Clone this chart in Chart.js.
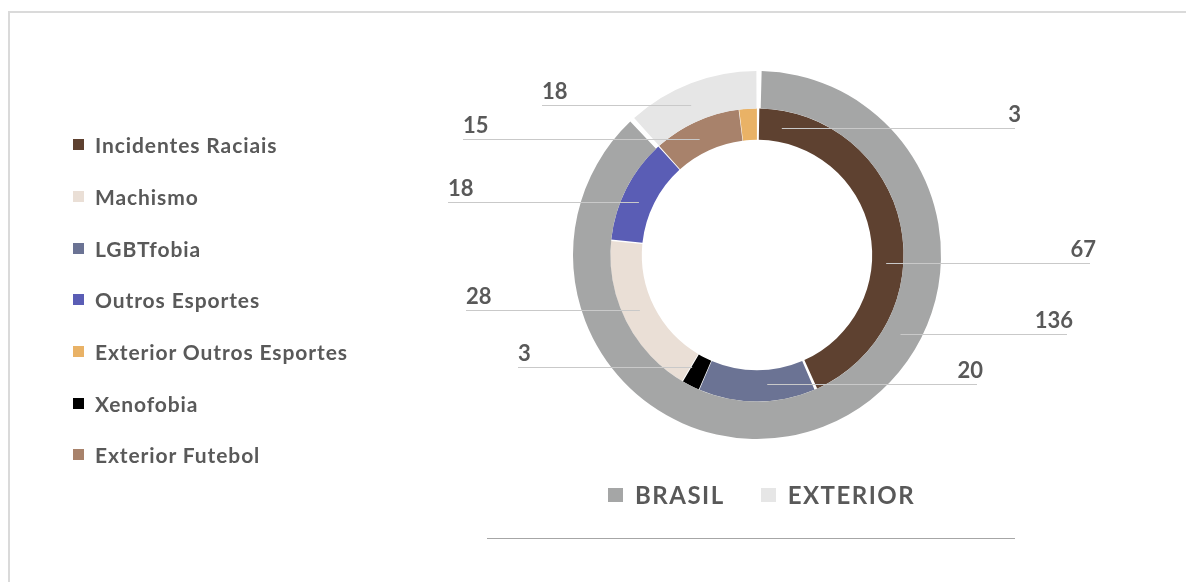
<!DOCTYPE html>
<html>
<head>
<meta charset="utf-8">
<script src="https://cdn.jsdelivr.net/npm/chart.js@4/dist/chart.umd.min.js"></script>
<style>
  html, body { margin: 0; padding: 0; background: #fff; }
  body { width: 1186px; height: 582px; position: relative; overflow: hidden; font-family: Lato, "Open Sans", sans-serif; }
  #frame { position: absolute; left: 8px; top: 11px; width: 1300px; height: 700px; border-top: 2px solid #dadada; border-left: 2px solid #dadada; }
  #chartBox { position: absolute; left: 0; top: 0; width: 1186px; height: 582px; }
  #sideLegend { position: absolute; left: 73px; top: 119px; }
  #sideLegend .item { height: 51.7px; display: flex; align-items: center; font-weight: bold; font-size: 21px; letter-spacing: 0.9px; color: #595959; }
  #sideLegend .box { width: 11px; height: 11px; margin-right: 11px; }
  #bottomLegend { position: absolute; left: 608px; top: 480px; display: flex; }
  #bottomLegend .item { display: flex; align-items: center; font-weight: bold; font-size: 24px; letter-spacing: 1.5px; color: #595959; margin-right: 36px; }
  #bottomLegend .box { width: 15px; height: 14px; margin-right: 12px; }
  #rule { position: absolute; left: 487px; top: 538px; width: 528px; height: 0; border-top: 1.5px solid #a6a6a6; }
</style>
</head>
<body>
<div id="frame"></div>
<div id="chartBox"><canvas id="donut" width="1186" height="582"></canvas></div>
<div id="sideLegend"></div>
<div id="bottomLegend"></div>
<div id="rule"></div>
<script>
// inner ring (clockwise from top)
const innerLabels = ['Incidentes Raciais', 'LGBTfobia', 'Xenofobia', 'Machismo', 'Outros Esportes', 'Exterior Futebol', 'Exterior Outros Esportes'];
const innerValues = [67, 20, 3, 28, 18, 15, 3];
const innerColors = ['#5e4130', '#6b7394', '#000000', '#eadfd6', '#5a5db5', '#a8826b', '#e9b266'];

// outer ring
const outerLabels = ['BRASIL', 'EXTERIOR'];
const outerValues = [136, 18];
const outerColors = ['#a5a6a6', '#e6e6e6'];

// order of the side legend
const legendOrder = ['Incidentes Raciais', 'Machismo', 'LGBTfobia', 'Outros Esportes', 'Exterior Outros Esportes', 'Xenofobia', 'Exterior Futebol'];

// callout line ends, relative to the chart centre [dx, dy]
const innerCallouts = [[333, 8], [220, 129], [-239, 112], [-291, 55], [-309, -53], [-294, -116], [258, -127]];
const outerCallouts = [[310, 79], [-215, -150]];

const TEXT = '#595959';

const calloutPlugin = {
    id: 'callouts',
    afterDatasetsDraw(chart) {
        const ctx = chart.ctx;
        const sets = [outerCallouts, innerCallouts];
        const vals = [outerValues, innerValues];
        ctx.save();
        ctx.font = 'bold 22px Lato';
        ctx.fillStyle = TEXT;
        ctx.strokeStyle = '#c9c9c9';
        ctx.lineWidth = 1;
        chart.data.datasets.forEach((ds, d) => {
            const meta = chart.getDatasetMeta(d);
            meta.data.forEach((arc, i) => {
                const p = arc.getProps(['x', 'y', 'innerRadius', 'outerRadius'], true);
                const [dx, dy] = sets[d][i];
                const side = Math.sign(dx);
                const midR = (p.innerRadius + p.outerRadius) / 2;
                const ax = p.x + side * Math.sqrt(Math.max(midR * midR - dy * dy, 0));
                const ly = Math.round(p.y + dy) + 0.5;
                const ex = p.x + dx;
                ctx.beginPath();
                ctx.moveTo(ax, ly);
                ctx.lineTo(ex, ly);
                ctx.stroke();
                ctx.textAlign = side > 0 ? 'right' : 'left';
                ctx.textBaseline = 'alphabetic';
                ctx.fillText(String(vals[d][i]), side > 0 ? ex + 6 : ex, ly - 7);
            });
        });
        ctx.restore();
    }
};

new Chart(document.getElementById('donut'), {
    type: 'doughnut',
    data: {
        datasets: [{
            label: 'Região',
            data: outerValues,
            backgroundColor: outerColors,
            borderWidth: 0,
            spacing: 3,
            weight: 1.19
        }, {
            label: 'Tipo',
            data: innerValues,
            backgroundColor: innerColors,
            borderWidth: 0,
            spacing: 3,
            weight: 1
        }]
    },
    options: {
        responsive: false,
        animation: false,
        cutout: '62.3%',
        layout: { padding: { left: 573, right: 245, top: 71, bottom: 143 } },
        plugins: {
            legend: { display: false },
            tooltip: { enabled: false }
        }
    },
    plugins: [calloutPlugin]
});

// HTML legends built from the arrays
const side = document.getElementById('sideLegend');
legendOrder.forEach(name => {
    const idx = innerLabels.indexOf(name);
    const row = document.createElement('div');
    row.className = 'item';
    row.innerHTML = '<span class="box" style="background:' + innerColors[idx] + '"></span>' + name;
    side.appendChild(row);
});
const bottom = document.getElementById('bottomLegend');
outerLabels.forEach((name, i) => {
    const row = document.createElement('div');
    row.className = 'item';
    row.innerHTML = '<span class="box" style="background:' + outerColors[i] + '"></span>' + name;
    bottom.appendChild(row);
});
</script>
</body>
</html>
